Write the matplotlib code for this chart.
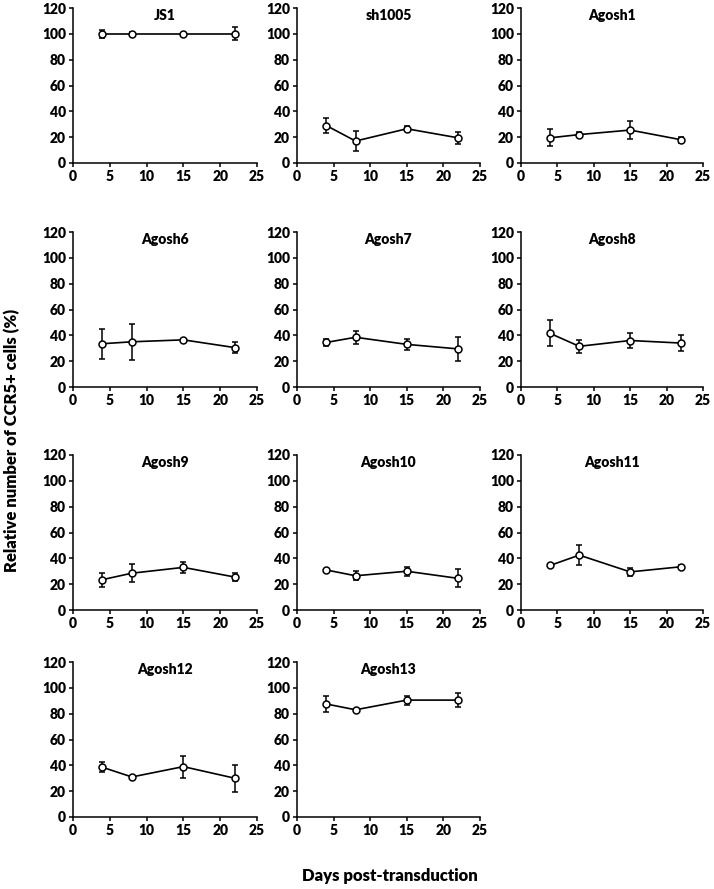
import matplotlib
matplotlib.use("Agg")
import matplotlib.pyplot as plt

plt.rcParams['font.family'] = ['Lato', 'DejaVu Sans']
plt.rcParams['font.weight'] = 'heavy'

days = [4, 8, 15, 22]
names = ["JS1", "sh1005", "Agosh1", "Agosh6", "Agosh7", "Agosh8",
         "Agosh9", "Agosh10", "Agosh11", "Agosh12", "Agosh13"]
js1 = [100, 100, 100, 100]
js1_err = [3, 1.5, 0.5, 5]
sh1005 = [29, 17, 26.5, 19.5]
sh1005_err = [6, 7.5, 2, 4.5]
agosh1 = [19.5, 22, 25.5, 18]
agosh1_err = [6.5, 2, 7, 2.5]
agosh6 = [33.5, 35, 36.5, 30.5]
agosh6_err = [11.5, 14, 1, 4.5]
agosh7 = [34.5, 38.5, 33, 29.5]
agosh7_err = [3, 5, 4, 9]
agosh8 = [41.5, 31.5, 36, 34]
agosh8_err = [10, 5, 6, 6.5]
agosh9 = [23.5, 28.5, 33, 25.5]
agosh9_err = [5.5, 7, 4, 3]
agosh10 = [31, 26.5, 30, 24.5]
agosh10_err = [0.5, 3.5, 3.5, 7]
agosh11 = [34.5, 42.5, 29.5, 33.5]
agosh11_err = [1, 7.5, 3, 1]
agosh12 = [38.5, 31, 39, 30]
agosh12_err = [4, 0.5, 8.5, 10.5]
agosh13 = [87.5, 83, 90.5, 90.5]
agosh13_err = [6, 0.5, 3.5, 5.5]

series = [js1, sh1005, agosh1, agosh6, agosh7, agosh8, agosh9, agosh10, agosh11, agosh12, agosh13]
errors = [js1_err, sh1005_err, agosh1_err, agosh6_err, agosh7_err, agosh8_err,
          agosh9_err, agosh10_err, agosh11_err, agosh12_err, agosh13_err]

W, H = 714, 889
fig = plt.figure(figsize=(W / 100, H / 100), dpi=100)

col_left = [73, 297, 521]
col_right = [257, 480, 703]
row_top = [8, 232, 455, 662]
row_bot = [163, 387, 610, 817]

for i, (name, y, e) in enumerate(zip(names, series, errors)):
    r, c = divmod(i, 3)
    l, rr = col_left[c], col_right[c]
    t, b = row_top[r], row_bot[r]
    ax = fig.add_axes([l / W, 1 - b / H, (rr - l) / W, (b - t) / H])
    ax.errorbar(days, y, yerr=e, color='black', lw=1.2, elinewidth=1.1,
                capsize=2.5, capthick=1.1, marker='o', markersize=5,
                markerfacecolor='white', markeredgecolor='black', markeredgewidth=1.1)
    ax.set_xlim(0, 25)
    ax.set_ylim(0, 120)
    ax.set_xticks([0, 5, 10, 15, 20, 25])
    ax.set_yticks([0, 20, 40, 60, 80, 100, 120])
    for s in ['top', 'right']:
        ax.spines[s].set_visible(False)
    for s in ['left', 'bottom']:
        ax.spines[s].set_linewidth(1.1)
    ax.tick_params(direction='out', length=3, width=1.1, labelsize=10, pad=2)
    for lab in ax.get_xticklabels() + ax.get_yticklabels():
        lab.set_fontweight('heavy')
    ax.text(0.5, 0.995, name, transform=ax.transAxes, ha='center', va='top',
            fontsize=10, fontweight='heavy')

fig.text(12 / W, 1 - 440 / H, "Relative number of CCR5+ cells (%)", rotation=90,
         ha='center', va='center', fontsize=12, fontweight='heavy')
fig.text(390 / W, 1 - 876 / H, "Days post-transduction", ha='center', va='center',
         fontsize=12, fontweight='heavy')

fig.savefig("out.png", dpi=100, facecolor='white')
